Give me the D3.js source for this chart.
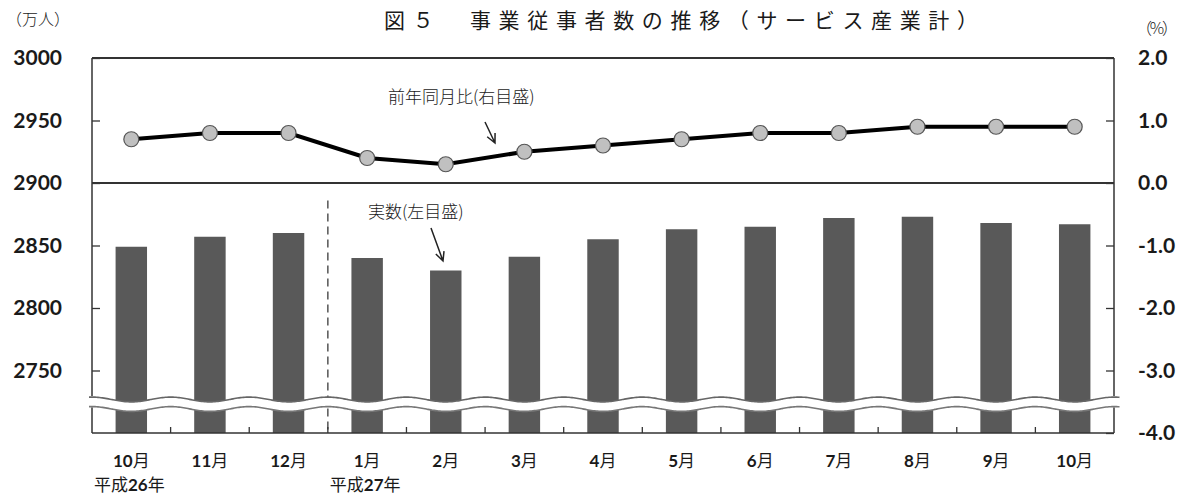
<!DOCTYPE html>
<html>
<head>
<meta charset="utf-8">
<script src="https://cdn.jsdelivr.net/npm/d3@7"></script>
<style>
  body { margin: 0; background: #fff; }
  text { fill: #1a1a1a; }
</style>
</head>
<body>
<svg id="chart"></svg>
<script>
// 月ラベル（平成26年10月〜平成27年10月）
const months = ["10月", "11月", "12月", "1月", "2月", "3月", "4月", "5月", "6月", "7月", "8月", "9月", "10月"];
const yearLabels = ["平成26年", "", "", "平成27年", "", "", "", "", "", "", "", "", ""];
// 実数（万人, 左目盛）
const workers = [2849, 2857, 2860, 2840, 2830, 2841, 2855, 2863, 2865, 2872, 2873, 2868, 2867];
// 前年同月比（%, 右目盛）
const yoy = [0.7, 0.8, 0.8, 0.4, 0.3, 0.5, 0.6, 0.7, 0.8, 0.8, 0.9, 0.9, 0.9];
const leftTicks = [2750, 2800, 2850, 2900, 2950, 3000];
const rightTicks = [-4, -3, -2, -1, 0, 1, 2];

const W = 1188, H = 496;
const margin = {top: 58, right: 74, bottom: 63, left: 92};
const width = W - margin.left - margin.right;
const height = H - margin.top - margin.bottom;
const latin = "Lato, 'Noto Sans CJK JP', sans-serif";
const jp = "'Noto Sans CJK JP', sans-serif";

const svg = d3.select("#chart").attr("width", W).attr("height", H);
const g = svg.append("g").attr("transform", `translate(${margin.left},${margin.top})`);

const x = d3.scaleBand().domain(d3.range(months.length)).range([0, width])
    .paddingInner(0.6).paddingOuter(0.3);
const yL = d3.scaleLinear().domain([2700, 3000]).range([height, 0]);
const yR = d3.scaleLinear().domain([-4, 2]).range([height, 0]);
const cx = i => x(i) + x.bandwidth() / 2;

// bars
g.append("g").selectAll("rect")
  .data(workers)
  .join("rect")
  .attr("x", (d, i) => x(i))
  .attr("width", x.bandwidth())
  .attr("y", d => yL(d))
  .attr("height", d => height - yL(d))
  .attr("fill", "#595959");

// year divider (dashed)
const divX = x(3) - (x.step() - x.bandwidth()) / 2;
g.append("line")
  .attr("x1", divX).attr("x2", divX)
  .attr("y1", yL(2886)).attr("y2", height)
  .attr("stroke", "#555").attr("stroke-width", 1.5)
  .attr("stroke-dasharray", "8,5");

// wavy break band (one wave per category, troughs under the bars)
const P = x.step(), A = 2.4;
const waveTop = height - 33.5;
const waveY = px => waveTop + A * Math.cos(2 * Math.PI * (px - cx(0)) / P);
const wx = d3.range(-3, width + 6, 1.5);
const upper = wx.map(px => [px, waveY(px)]);
const lower = upper.map(([px, py]) => [px, py + 9.5]);
g.append("path")
  .attr("d", d3.line()(upper.concat(lower.slice().reverse())) + "Z")
  .attr("fill", "#fff");
g.append("path").attr("d", d3.line().curve(d3.curveBasis)(upper))
  .attr("fill", "none").attr("stroke", "#666").attr("stroke-width", 1.6);
g.append("path").attr("d", d3.line().curve(d3.curveBasis)(lower))
  .attr("fill", "none").attr("stroke", "#777").attr("stroke-width", 1.6);

// frame: top, zero line, bottom, sides (sides split at the break)
const frame = g.append("g").attr("stroke", "#333").attr("fill", "none");
frame.append("line").attr("x1", 0).attr("x2", width).attr("y1", 0).attr("y2", 0).attr("stroke-width", 2);
frame.append("line").attr("x1", 0).attr("x2", width).attr("y1", yR(0)).attr("y2", yR(0)).attr("stroke-width", 2);
frame.append("line").attr("x1", 0).attr("x2", width).attr("y1", height).attr("y2", height).attr("stroke-width", 1.5);
[0, width].forEach(sx => {
  const yTop = waveY(sx);
  frame.append("line").attr("x1", sx).attr("x2", sx).attr("y1", 0).attr("y2", yTop - 1).attr("stroke-width", 1.5);
  frame.append("line").attr("x1", sx).attr("x2", sx).attr("y1", yTop + 10.5).attr("y2", height).attr("stroke-width", 1.5);
});

// left axis
const leftAxis = g.append("g")
  .call(d3.axisLeft(yL).tickValues(leftTicks).tickSize(-8).tickPadding(30).tickFormat(d3.format("d")));
leftAxis.select(".domain").remove();
leftAxis.selectAll(".tick line").attr("stroke", "#333").attr("stroke-width", 1.3);
leftAxis.selectAll("text").attr("font-family", latin).attr("font-size", 21).attr("font-weight", 700).attr("fill", "#1a1a1a");

// right axis
const rightAxis = g.append("g").attr("transform", `translate(${width},0)`)
  .call(d3.axisRight(yR).tickValues(rightTicks).tickSize(-8).tickPadding(24).tickFormat(d => d.toFixed(1)));
rightAxis.select(".domain").remove();
rightAxis.selectAll(".tick line").attr("stroke", "#333").attr("stroke-width", 1.3);
rightAxis.selectAll("text").attr("font-family", latin).attr("font-size", 21).attr("font-weight", 700).attr("fill", "#1a1a1a");

// bottom ticks at category boundaries
g.append("g").selectAll("line")
  .data(d3.range(1, months.length))
  .join("line")
  .attr("x1", i => x(i) - (x.step() - x.bandwidth()) / 2)
  .attr("x2", i => x(i) - (x.step() - x.bandwidth()) / 2)
  .attr("y1", height).attr("y2", height - 6)
  .attr("stroke", "#333").attr("stroke-width", 1.3);

// month labels
const xl = g.append("g").attr("font-size", 17).attr("text-anchor", "middle");
months.forEach((m, i) => {
  const t = xl.append("text").attr("x", cx(i)).attr("y", height + 34);
  t.append("tspan").attr("font-family", latin).attr("font-weight", 700).text(m.replace("月", ""));
  t.append("tspan").attr("font-family", jp).text("月");
  if (yearLabels[i]) {
    const [, num] = yearLabels[i].match(/平成(\d+)年/);
    const t2 = xl.append("text").attr("x", cx(i) - 2).attr("y", height + 58);
    t2.append("tspan").attr("font-family", jp).text("平成");
    t2.append("tspan").attr("font-family", latin).attr("font-weight", 700).text(num);
    t2.append("tspan").attr("font-family", jp).text("年");
  }
});

// line (right axis)
g.append("path")
  .datum(yoy)
  .attr("d", d3.line().x((d, i) => cx(i)).y(d => yR(d)))
  .attr("fill", "none").attr("stroke", "#000").attr("stroke-width", 4);
g.append("g").selectAll("circle")
  .data(yoy)
  .join("circle")
  .attr("cx", (d, i) => cx(i))
  .attr("cy", d => yR(d))
  .attr("r", 7.5)
  .attr("fill", "#c0c0c0").attr("stroke", "#555").attr("stroke-width", 1.2);

// annotations
function arrow(x1, y1, x2, y2) {
  const ang = Math.atan2(y2 - y1, x2 - x1), h = 10;
  const a1 = ang + Math.PI - 0.45, a2 = ang + Math.PI + 0.45;
  svg.append("path")
    .attr("d", `M${x1},${y1}L${x2},${y2}M${x2 + h * Math.cos(a1)},${y2 + h * Math.sin(a1)}L${x2},${y2}L${x2 + h * Math.cos(a2)},${y2 + h * Math.sin(a2)}`)
    .attr("fill", "none").attr("stroke", "#222").attr("stroke-width", 1.5);
}
svg.append("text").attr("x", 388).attr("y", 103)
  .attr("font-family", jp).attr("font-size", 17).attr("font-weight", 300).text("前年同月比(右目盛)");
arrow(485, 122, 495, 143);
svg.append("text").attr("x", 368).attr("y", 218)
  .attr("font-family", jp).attr("font-size", 17).attr("font-weight", 300).text("実数(左目盛)");
arrow(431, 228, 443, 261);

// titles and units
svg.append("text").attr("x", 384).attr("y", 28)
  .attr("font-family", jp).attr("font-size", 21).attr("font-weight", 400)
  .attr("textLength", 594).attr("lengthAdjust", "spacing")
  .text("図５　事業従事者数の推移（サービス産業計）");
svg.append("text").attr("x", 6).attr("y", 25)
  .attr("font-family", jp).attr("font-size", 16).attr("font-weight", 300).text("（万人）");
svg.append("text").attr("x", 1136).attr("y", 34)
  .attr("font-family", jp).attr("font-size", 16).attr("font-weight", 300)
  .attr("textLength", 42).attr("lengthAdjust", "spacing").text("（%）");
</script>
</body>
</html>
